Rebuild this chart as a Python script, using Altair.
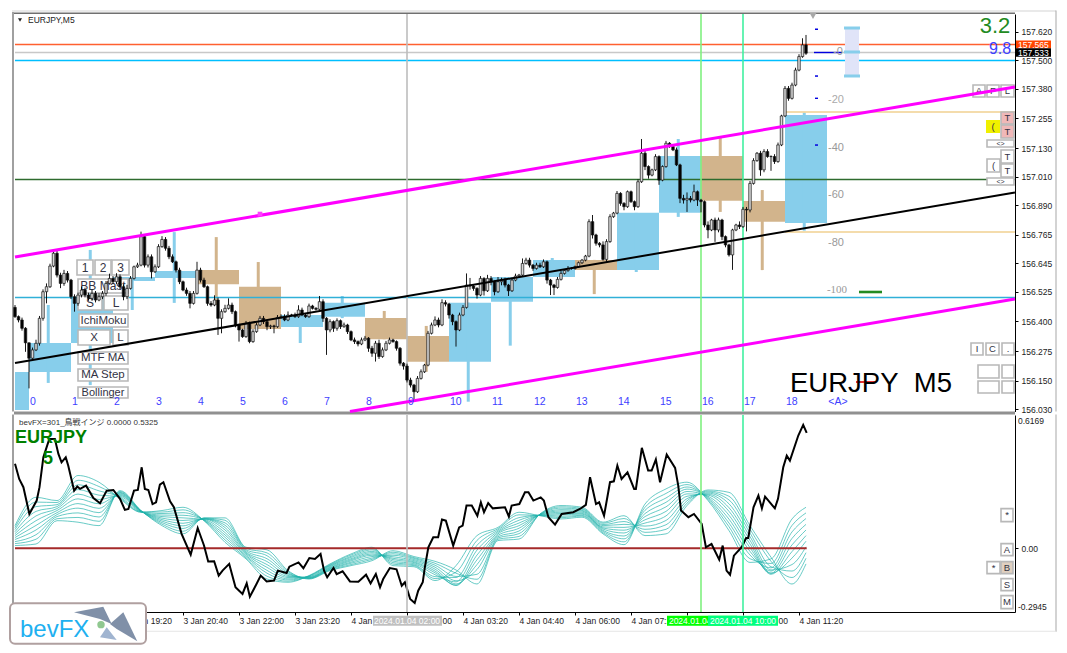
import altair as alt
import pandas as pd

# ---------- candles: broker points above 156.000
close_pts = [420,406,371,310,245,280,308,413,525,546,
 633,687,595,560,602,574,504,476,511,532,
 511,497,518,490,504,518,560,581,567,588,
 546,504,539,581,630,637,757,637,672,609,
 630,715,745,708,672,651,616,567,532,518,
 476,518,616,574,546,476,469,490,413,441,
 455,469,441,385,364,336,392,315,357,385,
 413,399,378,381,378,417,420,406,427,427,
 420,448,427,420,465,455,451,483,413,364,
 399,371,403,378,385,357,322,315,305,322,
 329,287,266,308,252,280,308,322,315,287,
 224,212,153,132,104,160,188,216,350,385,
 406,385,479,473,427,399,364,427,459,553,
 549,539,511,581,529,581,567,525,567,574,
 553,529,574,591,595,644,658,637,623,637,
 630,651,574,553,543,577,602,614,623,623,
 630,647,658,675,820,764,729,722,661,736,
 841,856,939,897,883,946,904,883,988,1108,
 1052,1016,1038,1094,995,1052,1150,1136,1122,1059,
 918,911,918,911,946,911,904,806,785,827,
 785,827,757,722,680,785,806,799,872,869,
 981,1077,1108,1038,1115,1094,1094,1073,1143,1265,
 1381,1339,1395,1458,1515,1564,1529]
first_open = 459
wick_up = [10,5,10,5,0,10,15,10,10,14, 10,7,14,10,15,10,5,10,10,15, 10,10,15,10,15,10,10,20,10,15,
 10,10,15,10,5,10,21,10,10,10, 10,10,14,10,10,10,5,10,5,10, 10,10,35,10,10,5,10,20,10,10,
 15,28,10,5,5,5,10,7,10,10, 10,10,5,5,5,10,10,10,15,5, 10,20,10,5,10,5,5,24,10,5,
 10,5,10,5,10,5,5,10,5,10, 10,5,10,10,15,10,10,10,5,5, 5,5,10,10,5,10,10,5,10,10,
 15,10,14,10,5,5,5,10,10,49, 30,5,5,10,5,15,10,5,20,10, 10,5,10,10,5,21,10,10,5,10,
 10,10,5,5,5,10,10,5,10,5, 5,5,5,5,10,28,5,5,15,10, 10,5,10,5,5,5,5,5,10,60,
 15,5,5,10,5,5,10,5,10,10, 5,15,25,10,30,5,5,5,15,5, 10,10,5,5,5,5,5,15,10,10,
 10,10,5,10,10,10,5,10,10,5, 10,10,10,10,10,28,42]
wick_dn = [5,10,10,38,127,10,5,10,10,49, 5,5,10,20,10,10,10,35,10,10, 10,10,10,10,5,10,10,5,10,10,
 10,15,10,5,5,5,5,10,10,28, 5,5,5,10,10,5,10,10,5,10, 21,5,5,10,5,10,7,5,70,63,
 5,5,10,10,49,5,5,7,5,5, 5,10,15,10,28,5,5,5,5,5, 5,5,5,5,5,5,5,5,15,105,
 10,15,10,10,5,10,5,10,10,5, 5,15,15,35,10,5,5,5,5,10, 10,15,10,10,42,5,5,5,5,5,
 5,10,5,10,15,15,70,5,5,5, 15,10,15,5,20,5,15,15,5,15, 10,22,5,5,5,5,5,10,10,5,
 5,5,15,42,32,5,5,5,5,5, 5,5,5,5,5,15,10,10,5,10, 5,5,5,10,15,5,5,15,5,5,
 15,15,5,5,20,5,5,5,5,5, 20,15,50,10,5,25,45,10,35,5, 50,10,15,10,7,63,5,10,5,90,
 10,5,5,25,10,5,60,10,5,5, 5,10,5,5,5,5,7]

# ---------- hourly boxes: first bar, kind, top, bottom, wick top, wick bottom (points above 156.000)
box_rows = [(-8,"u",187,27,187,27),(4,"u",309,187,469,141),(16,"u",503,309,701,132),(28,"u",587,570,587,448),
 (40,"u",612,583,776,478),(52,"d",616,556,755,469),(64,"d",546,368,650,368),(76,"u",427,377,427,309),
 (88,"u",479,420,507,414),(100,"d",414,325,444,325),(112,"d",339,230,381,188),(124,"u",479,230,479,62),
 (136,"u",587,483,587,298),(148,"u",659,587,667,587),(160,"d",659,616,659,515),(172,"u",857,616,857,608),
 (184,"u",1096,858,1168,840),(196,"d",1096,908,1172,861),(208,"d",907,820,953,616),(220,"u",1269,814,1279,782)]

# ---------- oscillator: (bar, value)
ind_line = [(0,.391),(1.2,.321),(2.4,.283),(4.1,.159),(6.2,.221),(7,.283),(8.1,.421),(9.8,.506),(11.4,.506),(12.4,.437),
 (13.3,.398),(14.5,.421),(15.2,.383),(16.9,.267),(17.8,.286),(18.6,.275),(20.3,.290),(22.4,.233),(24.3,.209),(26.2,.267),
 (28.1,.270),(30,.229),(31.4,.178),(32.4,.182),(34,.267),(35.1,.270),(36.2,.375),(37.1,.275),(38.1,.270),(39.3,.205),
 (40.3,.213),(41.4,.295),(42.4,.306),(44.3,.218),(45.4,.190),(47.6,.067),(50.2,-.029),(52.2,.094),(54,.013),(55.2,-.061),
 (56.9,-.060),(58.2,-.126),(59.3,-.103),(61.2,-.072),(63,-.180),(65,-.211),(66.2,-.162),(67.1,-.224),(69,-.165),(70.2,-.126),
 (71.9,-.153),(74,-.149),(75.1,-.103),(77.6,-.114),(78.4,-.085),(81,-.065),(82.4,-.092),(84.1,-.045),(85.7,-.049),(87.3,-.026),
 (88.3,-.103),(89.2,-.134),(91,-.091),(91.9,-.119),(93.6,-.106),(95.7,-.153),(98.1,-.154),(100.3,-.122),(101.6,-.162),(103.1,-.119),
 (104.3,-.180),(105.2,-.142),(107.1,-.091),(109,-.097),(110.5,-.173),(111.4,-.157),(112.9,-.234),(114.2,-.253),(115.2,-.196),(116.5,-.157),
 (117.1,-.088),(118.1,.005),(119.5,.051),(120.9,.051),(122,.133),(123.1,.128),(125.2,.013),(126.9,.097),(127.9,.105),(129,.198),
 (130.5,.198),(132.1,.151),(133.1,.213),(134,.167),(135.2,.209),(136.5,.185),(140,.190),(141.1,.147),(141.9,.198),(144.1,.205),
 (145.7,.259),(146.7,.259),(148.1,.221),(150.2,.236),(151.1,.221),(152.4,.144),(154.3,.110),(156.2,.159),(159.5,.167),(161.4,.182),
 (163.1,.201),(164.3,.329),(166,.205),(166.9,.213),(168.3,.151),(170,.306),(171.1,.310),(172.1,.383),(173.3,.321),(175,.352),
 (176.9,.275),(177.4,.275),(179.1,.465),(180.9,.360),(181.9,.360),(183.1,.411),(184.3,.306),(186.2,.434),(188.6,.372),(189.5,.290),
 (190.3,.175),(192.4,.144),(194,.159),(196.2,.113),(197.4,.005),(199,.020),(201.2,-.052),(202.2,.013),(203.3,-.103),(204.3,-.122),
 (205.4,-.034),(207.6,.005),(208.9,.048),(209.5,.048),(211,.190),(212.4,.244),(213.4,.185),(214.3,.239),(217.1,.185),(218,.229),
 (219.5,.375),(220.5,.429),(221.4,.406),(223.8,.522),(225.2,.571),(226.2,.534)]

# ---------- teal ribbon, thousandths, one row per sampled bar, eleven lines
ribbon_bars = [0,6,12,18,24,30,36,42,48,54,60,66,72,78,84,90,96,102,108,114,120,126,132,138,144,150,156,162,168,174,180,186,192,198,204,210,216,222,226]
ribbon_rows = [
 [105,96,87,77,68,59,50,41,31,22,13],
 [236,214,193,171,150,128,106,85,63,42,20],
 [221,212,202,193,184,175,165,156,147,137,128],
 [337,315,294,272,251,229,207,186,164,143,121],
 [306,286,266,246,226,206,185,165,145,125,105],
 [229,233,237,240,244,248,252,256,259,263,267],
 [167,168,169,169,170,171,172,173,173,174,175],
 [175,168,161,154,147,140,133,126,119,112,105],
 [190,178,165,153,141,129,116,104,92,79,67],
 [128,129,131,132,133,135,136,137,138,140,141],
 [28,39,51,62,73,85,96,107,118,130,141],
 [-49,-44,-38,-33,-27,-22,-17,-11,-6,0,5],
 [-142,-129,-115,-102,-88,-75,-61,-48,-34,-21,-7],
 [-157,-152,-146,-141,-135,-130,-125,-119,-114,-108,-103],
 [-126,-128,-129,-131,-132,-134,-136,-137,-139,-140,-142],
 [-72,-75,-78,-81,-84,-88,-91,-94,-97,-100,-103],
 [-26,-31,-37,-42,-48,-53,-58,-64,-69,-75,-80],
 [5,-1,-7,-14,-20,-26,-32,-38,-45,-51,-57],
 [-80,-73,-66,-59,-52,-46,-39,-32,-25,-18,-11],
 [-85,-80,-76,-71,-66,-62,-57,-52,-47,-43,-38],
 [-149,-140,-131,-122,-113,-105,-96,-87,-78,-69,-60],
 [-80,-110,-135,-155,-170,-172,-165,-150,-130,-115,-100],
 [59,37,14,-8,-31,-53,-75,-98,-120,-143,-165],
 [97,91,85,79,73,67,60,54,48,42,36],
 [167,155,142,130,117,105,93,80,68,55,43],
 [151,152,153,153,154,155,156,157,157,158,159],
 [136,142,148,155,161,167,173,179,186,192,198],
 [144,149,153,158,162,167,172,176,181,185,190],
 [67,72,78,83,89,94,99,105,110,116,121],
 [17,30,44,57,71,84,97,111,124,138,151],
 [205,190,176,161,147,132,117,103,88,74,59],
 [275,254,233,213,192,171,150,129,109,88,67],
 [306,295,284,274,263,252,241,230,220,209,198],
 [221,226,231,236,241,246,250,255,260,265,270],
 [82,100,117,135,153,171,188,206,224,241,259],
 [-65,-48,-31,-14,3,20,37,54,71,88,105],
 [-49,-70,-90,-105,-115,-120,-115,-100,-85,-60,-41],
 [136,106,76,46,16,-15,-45,-75,-105,-135,-165],
 [190,164,138,111,85,59,33,7,-20,-46,-72]]

price_ticks = [157.620,157.500,157.380,157.255,157.130,157.010,156.890,156.765,156.645,156.525,156.400,156.275,156.150,156.030]
time_ticks = list(range(32, 225, 16))
time_labels = ["3 Jan 19:20","3 Jan 20:40","3 Jan 22:00","3 Jan 23:20","4 Jan 00:40","4 Jan 02:00",
               "4 Jan 03:20","4 Jan 04:40","4 Jan 06:00","4 Jan 07:20","4 Jan 08:40","4 Jan 10:00","4 Jan 11:20"]

# levels (points above 156.000) and trend lines
h_levels = [(0,285.7,1566,"#FF6030"),(0,285.7,1532,"#C8C8C8"),(0,285.7,1498,"#00BFFF"),(220,285.7,1282,"#F0D090"),
            (220,285.7,776,"#F0D090"),(0,285.7,997,"#2E6B2E"),(0,285.7,501,"#30B0D8")]
v_levels = [(112,"#BDBDBD"),(196,"#80F080"),(208,"#40F0A0")]
magenta_top = [(0,671),(285.7,1387)]
magenta_low = [(95.7,21),(285.7,494)]
black_trend = [(0,225),(285.7,943)]

# ---------- page-pixel helpers for chart furniture
PW, H1, H2 = 1000, 397.5, 197
fx = lambda p: (p - 15) / 3.5
fy = lambda p: 156 + (30 + (409.3 - p) * 4.21) / 1000
fy2 = lambda p: (547.7 - p) / 216.1
xs = alt.Scale(domain=[0, PW / 3.5], nice=False, zero=False, padding=0)
ys = alt.Scale(domain=[fy(411.5), fy(14)], nice=False, zero=False)
ys2 = alt.Scale(domain=[-0.2945, 0.6169], nice=False, zero=False)
FONT = "Liberation Sans"
expr = "[" + ",".join(f'"{t}"' for t in time_labels) + "][round(datum.value/16)-2]"

AX_TOP_Y = alt.Axis(orient="right", values=price_ticks, format=".3f", title=None, grid=False,
    domainColor="#000000", tickColor="#000000", tickSize=3, labelFont=FONT, labelFontSize=8.5, labelColor="#222222",
    labelPadding=3, labelOverlap=False, labelBound=False, labelFlush=False)
AX_BOT_Y = alt.Axis(orient="right", values=[0], format=".2f", title=None, grid=False, domainColor="#000000",
    tickColor="#000000", tickSize=3, labelFont=FONT, labelFontSize=8.5, labelColor="#222222", labelPadding=3)
AX_BOT_X = alt.Axis(values=time_ticks, labelExpr=expr, title=None, grid=False, domainColor="#000000",
    tickColor="#000000", tickSize=3, labelAlign="left", labelFont=FONT, labelFontSize=8.5, labelColor="#222222",
    labelPadding=1, labelOverlap=False, labelBound=False, labelFlush=False)

def X(f="x"): return alt.X(f"{f}:Q", scale=xs, axis=None)
def Xb(f="x"): return alt.X(f"{f}:Q", scale=xs, axis=AX_BOT_X)
def X2(f="x2"): return alt.X2(f"{f}:Q")
def Yt(f="y"): return alt.Y(f"{f}:Q", scale=ys, axis=AX_TOP_Y)
def Yb(f="y"): return alt.Y(f"{f}:Q", scale=ys2, axis=AX_BOT_Y)
def Y2(f="y2"): return alt.Y2(f"{f}:Q")

def rects(rows, fy_, Yf, Xf=X, stroke=False, sw=1.5, **kw):
    df = pd.DataFrame([dict(x=fx(a), x2=fx(b), y=fy_(c), y2=fy_(d), f=e, s=(g[0] if g else e))
                       for a, b, c, d, e, *g in rows])
    return alt.Chart(df).mark_rect(strokeWidth=sw if stroke else 0, **kw).encode(
        x=Xf(), x2=X2(), y=Yf(), y2=Y2(),
        fill=alt.Fill("f:N", scale=None), stroke=alt.Stroke("s:N", scale=None))

def texts(rows, fy_, Yf, Xf=X, align="center", font=FONT, **kw):
    df = pd.DataFrame([dict(t=t, x=fx(a), y=fy_(b), z=c, col=d) for t, a, b, c, d in rows])
    return alt.Chart(df).mark_text(align=align, baseline="middle", font=font, **kw).encode(
        x=Xf(), y=Yf(), text="t:N", size=alt.Size("z:Q", scale=None),
        color=alt.Color("col:N", scale=None))

def seg(pts, col, w):
    df = pd.DataFrame([dict(x=a, y=156 + b / 1000) for a, b in pts])
    return alt.Chart(df).mark_line(color=col, strokeWidth=w).encode(x=X(), y=Yt())

def buttons(rows, fy_, Yf, Xf=X):
    r = rects([(a, b, c, d, col, "#B8B8B8") for _, a, b, c, d, col, _z in rows], fy_, Yf, Xf, stroke=True, sw=1.6)
    t = texts([(l, (a + b) / 2, (c + d) / 2, z, "#333344") for l, a, b, c, d, _c, z in rows], fy_, Yf, Xf)
    return [r, t]

# ---------- top panel data
opens = [first_open] + close_pts[:-1]
cdf = pd.DataFrame(dict(b=range(len(close_pts)),
    o=[156 + v / 1000 for v in opens], c=[156 + v / 1000 for v in close_pts],
    h=[156 + (max(o, c) + u) / 1000 for o, c, u in zip(opens, close_pts, wick_up)],
    l=[156 + (min(o, c) - d) / 1000 for o, c, d in zip(opens, close_pts, wick_dn)],
    f=["#D8D8D8" if c >= o else "#000000" for o, c in zip(opens, close_pts)]))
BOXC = {"u": "#87CEEB", "d": "#D2B48C"}
bdf = pd.DataFrame([dict(x=max(b, 0), x2=b + 12, y=156 + t / 1000, y2=156 + bt / 1000, wx=b + 5.5,
                         wt=156 + wt / 1000, wb=156 + wb / 1000, f=BOXC[k])
                    for b, k, t, bt, wt, wb in box_rows])
hdf = pd.DataFrame([dict(x=a, x2=b, y=156 + p / 1000, s=c) for a, b, p, c in h_levels])
vdf = pd.DataFrame([dict(x=b, s=c) for b, c in v_levels])

layers = []
layers.append(rects([(12, 14, 12, 411.5, "#A0A0A0"), (14, 1015, 12.5, 14, "#707070"), (12, 1056, 10.5, 11.5, "#D4D4D4"),
                     (14, 1015, 411.5, 414.5, "#909090"), (1055.5, 1056.5, 10.5, 411.5, "#A8A8A8")], fy, Yt))
layers.append(alt.Chart(bdf).mark_rect(strokeWidth=0).encode(x=X(), x2=X2(), y=Yt(), y2=Y2(),
                fill=alt.Fill("f:N", scale=None)))
layers.append(alt.Chart(bdf[bdf.wx > 0]).mark_rule(strokeWidth=3).encode(x=X("wx"), y=Yt("wt"), y2=Y2("wb"),
                color=alt.Color("f:N", scale=None)))
layers.append(alt.Chart(hdf).mark_rule(strokeWidth=1.5).encode(x=X(), x2=X2(), y=Yt(),
                color=alt.Color("s:N", scale=None)))
layers.append(alt.Chart(vdf).mark_rule(strokeWidth=1.6).encode(x=X(), color=alt.Color("s:N", scale=None)))
layers += buttons([("1",77,93,260,275,"#FFFFFF",12),("2",95,111,260,275,"#FFFFFF",12),("3",112,129,260,275,"#FFFFFF",12),
    ("BB Mast",78,128,279,293,"#FFFFFF",12),("S",78,102,296,310,"#FFFFFF",12),("L",104,128,296,310,"#FFFFFF",12),
    ("IchiMoku",79,128,314,327,"#FFFFFF",11.5),("X",78,110,330,345,"#FFFFFF",11.5),("L",113,128,330,345,"#FFFFFF",11.5),
    ("MTF MA",78,128,352,364,"#FFFFFF",11.5),("MA Step",78,128,369,381,"#FFFFFF",11.5),("Bollinger",78,128,387,398,"#FFFFFF",11)], fy, Yt)
layers.append(alt.Chart(cdf).mark_rule(color="#000000", strokeWidth=0.9).encode(x=X("b"), y=Yt("h"), y2=alt.Y2("l:Q")))
layers.append(alt.Chart(cdf).mark_bar(size=2.5, stroke="#111111", strokeWidth=0.7).encode(
    x=X("b"), y=Yt("o"), y2=Y2("c"), fill=alt.Fill("f:N", scale=None)))
layers.append(seg(black_trend, "#000000", 2))
layers += buttons([("A",973,985,85,97,"#FFFFFF",9.5),("F",987,999,85,97,"#FFFFFF",9.5),("L",1001,1014,85,97,"#FFFFFF",9.5),
    ("T",1001,1014,112,124,"#F0B8B8",9.5),("T",1001,1014,125,138,"#F0B8B8",9.5),("<>",987,1014,140,147,"#FFFFFF",7),
    ("T",1001,1014,150,163,"#FFFFFF",9.5),("T",1001,1014,164,177,"#FFFFFF",9.5),("(",987,1000,159,172,"#FFFFFF",9.5),
    ("<>",987,1014,178,185,"#FFFFFF",7),("I",971,983,343,355,"#FFFFFF",9.5),("C",986,999,343,355,"#FFFFFF",9.5),
    (".",1002,1014,343,355,"#FFFFFF",9.5),("",978,999,365,378,"#FFFFFF",9),("",1002,1014,365,378,"#FFFFFF",9),
    ("",978,999,381,393,"#FFFFFF",9),("",1002,1014,381,393,"#FFFFFF",9)], fy, Yt)
layers.append(rects([(986, 1000, 120, 133, "#F0F000")], fy, Yt))
layers.append(seg(magenta_top, "#FF00FF", 3))
layers.append(seg(magenta_low, "#FF00FF", 3))
layers.append(alt.Chart(pd.DataFrame([dict(x=70, y=156.852)])).mark_square(size=22, color="#FF40FF", opacity=1).encode(x=X(), y=Yt()))
# right-hand range gauge and Fibonacci-like scale
layers.append(rects([(845, 859, 28, 76, "#E0E4F8"), (844, 860, 26.5, 29.5, "#87CEEB"), (844, 860, 50.5, 53.5, "#87CEEB"),
                     (844, 860, 74.5, 77.5, "#87CEEB"), (814, 842, 51.8, 53.2, "#0000E0"), (815, 818, 28.5, 30, "#0000E0"),
                     (815, 818, 75.3, 76.8, "#0000E0"), (815, 818, 97.6, 99, "#0000E0"), (815, 818, 144.3, 145.8, "#0000E0"),
                     (856, 875, 381.2, 382.8, "#E00000"), (859, 882, 290.7, 293.3, "#228B22"),
                     (1016, 1051, 40.5, 48.3, "#FF4500"), (1016, 1051, 48.3, 56.7, "#000000")], fy, Yt))
layers.append(alt.Chart(pd.DataFrame([dict(x=fx(813), y=fy(16))])).mark_point(shape="triangle-down", filled=True, size=45, color="#A8A8A8", opacity=1).encode(x=X(), y=Yt()))
layers.append(alt.Chart(pd.DataFrame([dict(x=fx(20), y=fy(20))])).mark_point(shape="triangle-down", filled=True, size=16, color="#222222", opacity=1).encode(x=X(), y=Yt()))
layers.append(texts([("-0",838,52,11,"#999999"),("-20",836,100,11,"#AAAAAA"),("-40",836,148,11,"#999999"),
                     ("-60",836,195,11,"#999999"),("-80",836,243,11,"#999999")], fy, Yt))
layers.append(texts([("-100",837,290,11,"#999999")], fy, Yt, font="Liberation Serif"))
layers.append(texts([("EURJPY,M5",28,20,8.5,"#222222"),("157.565",1018,44.5,8.5,"#FFFFFF"),("157.533",1018,52.5,8.5,"#FFFFFF"),
                     ("EURJPY\u00a0\u00a0M5",790,384,27.5,"#000000")]
                    + [(str(k), 30 + 42 * k, 402, 10.5, "#4040FF") for k in range(19)], fy, Yt, align="left"))
layers.append(texts([("3.2",995,26,22,"#228B22"),("9.8",1000,49,16,"#4040FF"),("<A>",838,402,10.5,"#4040FF"),("(",993,127,9.5,"#333344")], fy, Yt))
top = alt.layer(*layers).properties(width=PW, height=H1)

# ---------- bottom panel
rdf = pd.DataFrame([dict(x=b, y=v / 1000, j=j) for b, row in zip(ribbon_bars, ribbon_rows) for j, v in enumerate(row)])
idf = pd.DataFrame(ind_line, columns=["x", "y"])
low = []
low.append(rects([(12, 14, 414, 612, "#A0A0A0"), (1055.5, 1056.5, 414, 631, "#A8A8A8"), (146, 1056, 630, 631, "#E5E5E5")], fy2, Yb, Xb))
low.append(alt.Chart(rdf).mark_line(color="#20B2AA", strokeWidth=0.8, interpolate="monotone", opacity=0.85).encode(
    x=Xb(), y=Yb(), detail="j:N"))
low.append(alt.Chart(pd.DataFrame([dict(x=0, x2=226.2, y=0)])).mark_rule(color="#A52A2A", strokeWidth=2).encode(x=Xb(), x2=X2(), y=Yb()))
low.append(alt.Chart(idf).mark_line(color="#000000", strokeWidth=2).encode(x=Xb(), y=Yb()))
low.append(alt.Chart(vdf).mark_rule(strokeWidth=1.6).encode(x=Xb(), color=alt.Color("s:N", scale=None)))
low.append(texts([("bevFX=301_鳥戦インジ 0.0000 0.5325",19,422,8,"#333333")], fy2, Yb, Xb, align="left", font="Liberation Sans, Noto Sans CJK JP"))
low.append(texts([("EURJPY",15,437,18,"#008000")], fy2, Yb, Xb, align="left", fontWeight="bold"))
low.append(texts([("5",48,458,18,"#008000")], fy2, Yb, Xb, fontWeight="bold"))
low.append(texts([("0.6169",1018,420,8.5,"#222222"),("-0.2945",1018,606,8.5,"#222222")], fy2, Yb, Xb, align="left"))
low += buttons([("*",1001,1013,508,521,"#FFFFFF",9.5),("A",1001,1013,543,555,"#FFFFFF",9.5),("*",987,1000,561,573,"#FFFFFF",9.5),
                ("B",1001,1013,561,573,"#E0D0C0",9.5),("S",1001,1013,578,590,"#FFFFFF",9.5),("M",1001,1013,595,608,"#FFFFFF",9.5)], fy2, Yb, Xb)
low.append(rects([(373, 442, 615, 625, "#C0C0C0")], fy2, Yb, Xb))
low.append(texts([("2024.01.04 02:00",407,620,8.5,"#FFFFFF")], fy2, Yb, Xb))
low.append(rects([(667, 737, 615, 625, "#00FF00")], fy2, Yb, Xb))
low.append(texts([("2024.01.04 09:00",702,620,8.5,"#FFFFFF")], fy2, Yb, Xb))
low.append(rects([(708, 778, 615, 625, "#00FF7F")], fy2, Yb, Xb))
low.append(texts([("2024.01.04 10:00",743,620,8.5,"#FFFFFF")], fy2, Yb, Xb))
# logo
low.append(rects([(10, 146, 602.5, 643, "#FFFFFF", "#B0A0A0")], fy2, Yb, Xb, stroke=True, sw=2, cornerRadius=5))
logo_pt = pd.DataFrame([dict(x=fx(107), y=fy2(623))])
wing1 = "M-1.65,-0.565 L-0.185,-0.85 L0.235,0.015 L-0.35,-0.235 Z"
wing2 = "M0.15,0.015 L0.815,-0.565 L1.515,0.885 L0.485,0.265 Z"
tail = "M-0.015,0.185 L0.485,0.815 L-0.35,0.685 Z"
for shp, col in [(wing1, "#8090A8"), (wing2, "#8090A8"), (tail, "#A0B4D0")]:
    low.append(alt.Chart(logo_pt).mark_point(shape=shp, filled=True, size=1600, color=col, opacity=1).encode(x=Xb(), y=Yb()))
low.append(alt.Chart(pd.DataFrame([dict(x=fx(101), y=fy2(624))])).mark_circle(size=55, color="#90C890", opacity=1).encode(x=Xb(), y=Yb()))
low.append(texts([("bevFX",20,629,24,"#1EB0F0")], fy2, Yb, Xb, align="left"))
bottom = alt.layer(*low).properties(width=PW, height=H2)

chart = alt.vconcat(top, bottom, spacing=3, bounds="flush", padding={"left": 1, "top": 2, "right": 0, "bottom": 0}).configure_view(strokeWidth=0)
chart.save("out.html", embed_options={"renderer": "svg", "actions": False})
